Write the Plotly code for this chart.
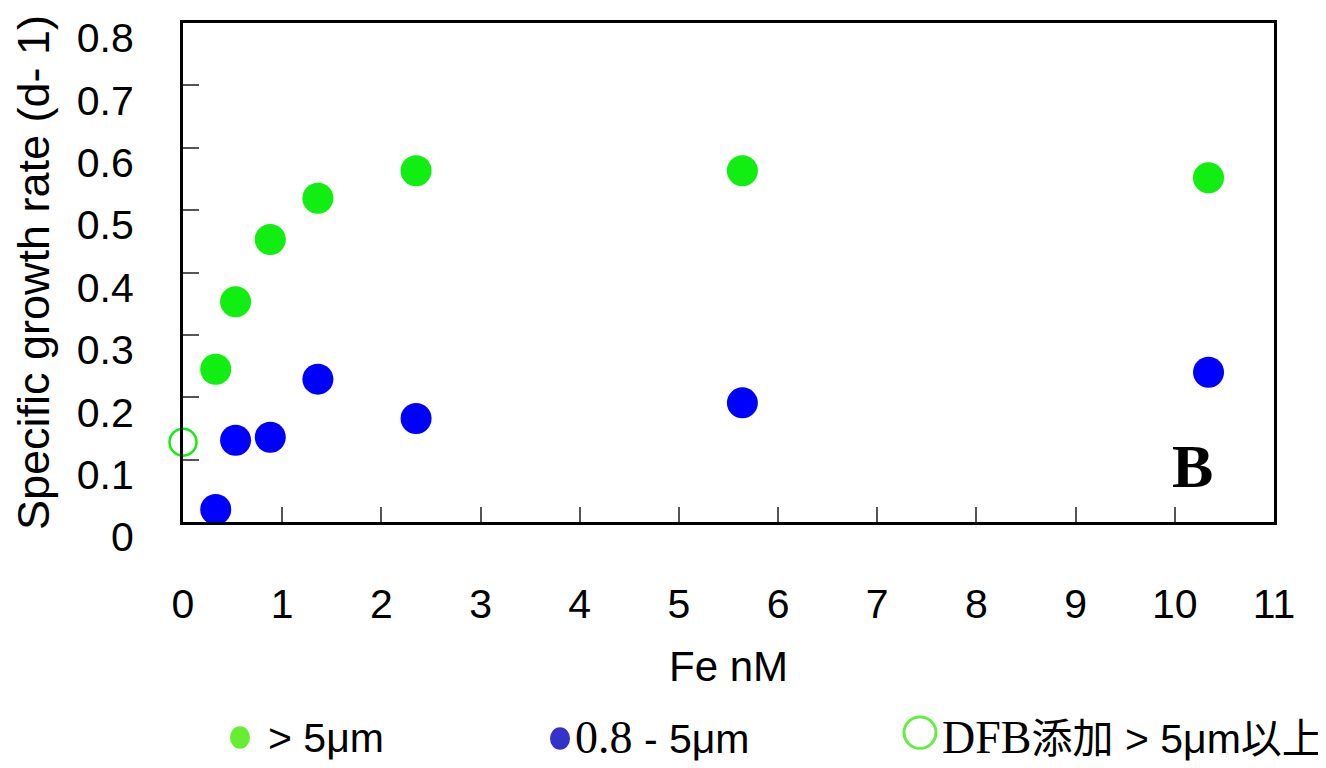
import plotly.graph_objects as go

# Data
fe_nm = [0.33, 0.53, 0.88, 1.36, 2.35, 5.64, 10.34]
rate_gt5 = [0.245, 0.353, 0.453, 0.519, 0.563, 0.563, 0.552]
rate_08_5 = [0.020, 0.131, 0.136, 0.229, 0.166, 0.191, 0.240]
dfb_fe = [0.0]
dfb_rate = [0.128]

x_ticks = list(range(0, 12))
y_ticks = [0, 0.1, 0.2, 0.3, 0.4, 0.5, 0.6, 0.7, 0.8]
y_tick_labels = ["0", "0.1", "0.2", "0.3", "0.4", "0.5", "0.6", "0.7", "0.8"]

legend_labels = ["> 5μm", "0.8 - 5μm", "DFB添加 > 5μm以上"]

GREEN = "#11ee11"
BLUE = "#0000ff"

SANS = "Liberation Sans, Arial, Noto Sans CJK JP, sans-serif"
SERIF = "Liberation Serif, Times New Roman, serif"

fig = go.Figure()
fig.add_trace(go.Scatter(x=fe_nm, y=rate_gt5, mode="markers", name=legend_labels[0],
                         marker=dict(size=31, color=GREEN), cliponaxis=False, showlegend=False))
fig.add_trace(go.Scatter(x=fe_nm, y=rate_08_5, mode="markers", name=legend_labels[1],
                         marker=dict(size=31, color=BLUE), cliponaxis=False, showlegend=False))
fig.add_trace(go.Scatter(x=dfb_fe, y=dfb_rate, mode="markers", name=legend_labels[2],
                         marker=dict(size=27, color="white", line=dict(color=GREEN, width=2.5)),
                         cliponaxis=False, showlegend=False))

# page body has an 8px margin; work in reference pixels and convert
OFF = 8
W, H = 1326 - OFF, 768 - OFF
L, R, T, B = 183 - OFF, 1274 - OFF, 15 - OFF, 522 - OFF
pw, ph = R - L, B - T


def px(x):
    return (x - OFF - L) / pw


def py(y):
    return (B - (y - OFF)) / ph


def serif(t):
    return '<span style="font-family:Liberation Serif;font-size:46px">' + t + '</span>'


legend_html = [
    "> 5μm",
    serif("0.8") + " - 5μm",
    serif("DFB") + "添加 > 5μm以上",
]

# legend built from shapes + annotations
leg_items = [
    (240, 741, 10, 11.5, "#66ee33", "#66ee33", 0, legend_html[0], 266),
    (560, 742, 10, 11.5, "#3333cc", "#3333cc", 0, legend_html[1], 573),
    (920, 736, 16, 16, "white", "#66ee44", 3, legend_html[2], 940),
]
shapes = []
annotations = []
for cx, cy, rx, ry, fill, line, lw, label, tx in leg_items:
    shapes.append(dict(type="circle", xref="paper", yref="paper",
                       x0=px(cx - rx), x1=px(cx + rx), y0=py(cy + ry), y1=py(cy - ry),
                       fillcolor=fill, line=dict(color=line, width=lw)))
    annotations.append(dict(text=label, xref="paper", yref="paper", x=px(tx), y=py(741),
                            xanchor="left", yanchor="middle", showarrow=False,
                            font=dict(family=SANS, size=41, color="black")))

annotations.append(dict(text="<b>B</b>", xref="paper", yref="paper", x=px(1192), y=py(465),
                        xanchor="center", yanchor="middle", showarrow=False,
                        font=dict(family=SERIF, size=62, color="black")))

fig.update_layout(
    width=W, height=H,
    margin=dict(l=L, r=W - R, t=T, b=H - B),
    paper_bgcolor="white", plot_bgcolor="white",
    font=dict(family=SANS, size=41, color="black"),
    shapes=shapes, annotations=annotations,
)
fig.update_xaxes(
    range=[0, 11], tickvals=x_ticks, ticks="inside", ticklen=15, tickwidth=1.5, tickcolor="#555555",
    showline=True, linecolor="black", linewidth=3, mirror=True, showgrid=False, zeroline=False,
    ticklabelstandoff=44, tickfont=dict(size=41),
    title=dict(text="Fe nM", standoff=26, font=dict(size=42)),
)
fig.update_yaxes(
    range=[0, 0.8], tickvals=y_ticks, ticktext=y_tick_labels, ticks="inside", ticklen=16,
    tickwidth=1.5, tickcolor="#555555",
    showline=True, linecolor="black", linewidth=3, mirror=True, showgrid=False, zeroline=False,
    ticklabelstandoff=38, ticklabelshift=15, tickfont=dict(size=41),
    title=dict(text="Specific growth rate (d- 1)", standoff=24, font=dict(size=45)),
)

fig.write_html("out.html")
